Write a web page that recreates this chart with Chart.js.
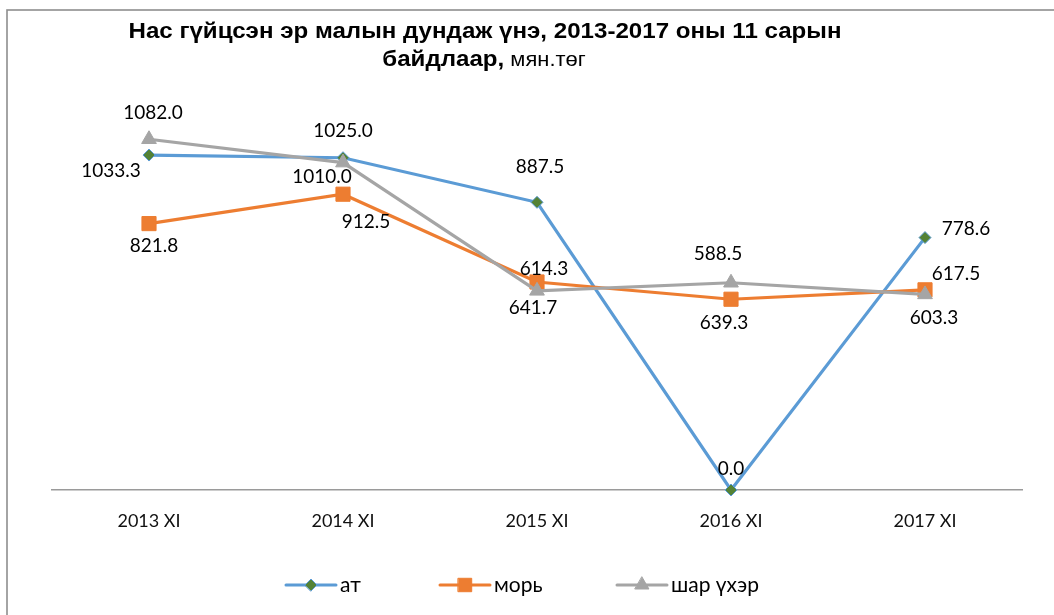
<!DOCTYPE html>
<html>
<head>
<meta charset="utf-8">
<script src="https://cdn.jsdelivr.net/npm/chart.js@4.4.0/dist/chart.umd.min.js"></script>
<style>
  html, body { margin: 0; padding: 0; background: #ffffff; }
  #wrap { width: 1054px; height: 615px; position: relative; }
</style>
</head>
<body>
<div id="wrap"><canvas id="c"></canvas></div>
<script>
// Categories (November of each year) and series values, thousand tögrög
const categories = ['2013 XI', '2014 XI', '2015 XI', '2016 XI', '2017 XI'];
const atValues   = [1033.3, 1025.0, 887.5, 0.0, 778.6];
const morValues  = [821.8, 912.5, 641.7, 588.5, 617.5];
const sharValues = [1082.0, 1010.0, 614.3, 639.3, 603.3];
const seriesNames = ['ат', 'морь', 'шар үхэр'];
const yMin = 0;
const yMax = 1200;

const titleLine1 = 'Нас гүйцсэн эр малын дундаж үнэ, 2013-2017 оны 11 сарын';
const titleLine2Bold = 'байдлаар,';
const titleLine2Rest = ' мян.төг';

// Value label placement relative to each point (dx, dy in px)
const atLabelOffsets   = [[-38, 16], [0, -27], [3, -35], [0, -21], [41, -9]];
const morLabelOffsets  = [[5, 22], [23, 28], [-4, 26], [-13, -45], [31, -16]];
const sharLabelOffsets = [[4, -26], [-21, 14], [7, -22], [-7, 40], [9, 23]];

const BLUE = '#5B9BD5', ORANGE = '#ED7D31', GRAY = '#A5A5A5', GREEN = '#548235';
const LABEL_FONT = '19px Lato, "Open Sans", sans-serif';
const LEGEND_FONT = '21px Lato, "Open Sans", sans-serif';

function drawMarker(ctx, style, x, y, r, fill, stroke, bw) {
  ctx.save();
  ctx.fillStyle = fill;
  ctx.strokeStyle = stroke;
  ctx.lineWidth = bw;
  ctx.beginPath();
  if (style === 'rectRot') {
    ctx.moveTo(x - r, y); ctx.lineTo(x, y - r); ctx.lineTo(x + r, y); ctx.lineTo(x, y + r);
  } else if (style === 'rect') {
    const s = r * Math.SQRT1_2;
    ctx.rect(x - s, y - s, 2 * s, 2 * s);
  } else if (style === 'triangle') {
    ctx.moveTo(x, y - r);
    ctx.lineTo(x + r * Math.sin(Math.PI * 2 / 3), y - r * Math.cos(Math.PI * 2 / 3));
    ctx.lineTo(x - r * Math.sin(Math.PI * 2 / 3), y - r * Math.cos(Math.PI * 2 / 3));
  }
  ctx.closePath();
  ctx.fill();
  if (bw > 0) ctx.stroke();
  ctx.restore();
}

const decorPlugin = {
  id: 'decor',
  beforeDraw(chart) {
    const ctx = chart.ctx;
    ctx.save();
    ctx.fillStyle = '#ffffff';
    ctx.fillRect(0, 0, chart.width, chart.height);
    // outer chart frame
    ctx.strokeStyle = '#8e8e8e';
    ctx.lineWidth = 1.6;
    ctx.strokeRect(7, 10, 2000, 2000);
    // title
    ctx.fillStyle = '#000000';
    ctx.textBaseline = 'alphabetic';
    ctx.font = 'bold 22px "Liberation Sans", Arial, sans-serif';
    const w1 = ctx.measureText(titleLine1).width;
    const sx = 713 / w1;
    ctx.save();
    ctx.translate(485, 38);
    ctx.scale(sx, 1);
    ctx.textAlign = 'center';
    ctx.fillText(titleLine1, 0, 0);
    ctx.restore();
    // second title line: bold part + regular unit
    const boldFont = 'bold 22px "Liberation Sans", Arial, sans-serif';
    const regFont = '20px "Liberation Sans", Arial, sans-serif';
    ctx.font = boldFont;
    const wb = ctx.measureText(titleLine2Bold).width;
    ctx.font = regFont;
    const wr = ctx.measureText(titleLine2Rest).width;
    ctx.save();
    ctx.translate(484, 66);
    ctx.scale(sx, 1);
    const start = -(wb + wr) / 2;
    ctx.textAlign = 'left';
    ctx.font = boldFont;
    ctx.fillText(titleLine2Bold, start, 0);
    ctx.font = regFont;
    ctx.fillText(titleLine2Rest, start + wb, 0);
    ctx.restore();
    ctx.restore();
  },
  afterDatasetsDraw(chart) {
    const ctx = chart.ctx;
    ctx.save();
    ctx.font = LABEL_FONT;
    ctx.fillStyle = '#000000';
    ctx.textAlign = 'center';
    ctx.textBaseline = 'middle';
    chart.data.datasets.forEach((ds, i) => {
      const meta = chart.getDatasetMeta(i);
      meta.data.forEach((pt, j) => {
        const off = ds.labelOffsets[j];
        ctx.fillText(ds.data[j].toFixed(1), pt.x + off[0], pt.y + off[1]);
      });
    });
    ctx.restore();
  },
  afterDraw(chart) {
    // legend: line sample with marker, then series name
    const ctx = chart.ctx;
    const y = 585;
    const starts = [286, 440, 617];
    const lineLen = 50;
    ctx.save();
    ctx.font = LEGEND_FONT;
    ctx.textBaseline = 'middle';
    ctx.textAlign = 'left';
    chart.data.datasets.forEach((ds, i) => {
      const x0 = starts[i];
      ctx.strokeStyle = ds.borderColor;
      ctx.lineWidth = 3;
      ctx.lineCap = 'round';
      ctx.beginPath();
      ctx.moveTo(x0, y);
      ctx.lineTo(x0 + lineLen, y);
      ctx.stroke();
      drawMarker(ctx, ds.pointStyle, x0 + lineLen / 2, y, ds.legendRadius,
                 ds.pointBackgroundColor, ds.pointBorderColor, ds.pointBorderWidth);
      ctx.fillStyle = '#000000';
      ctx.fillText(ds.label, x0 + lineLen + 4, y);
    });
    ctx.restore();
  }
};

new Chart(document.getElementById('c'), {
  type: 'line',
  data: {
    labels: categories,
    datasets: [
      {
        label: seriesNames[0], data: atValues, labelOffsets: atLabelOffsets,
        borderColor: BLUE, borderWidth: 3.2,
        pointStyle: 'rectRot', pointRadius: 6, legendRadius: 6,
        pointBackgroundColor: GREEN, pointBorderColor: BLUE, pointBorderWidth: 1,
        order: 3
      },
      {
        label: seriesNames[1], data: morValues, labelOffsets: morLabelOffsets,
        borderColor: ORANGE, borderWidth: 3.2,
        pointStyle: 'rect', pointRadius: 10, legendRadius: 9.5,
        pointBackgroundColor: ORANGE, pointBorderColor: ORANGE, pointBorderWidth: 1,
        order: 2
      },
      {
        label: seriesNames[2], data: sharValues, labelOffsets: sharLabelOffsets,
        borderColor: GRAY, borderWidth: 3.2,
        pointStyle: 'triangle', pointRadius: 8.5, legendRadius: 8,
        pointBackgroundColor: GRAY, pointBorderColor: GRAY, pointBorderWidth: 1,
        order: 1
      }
    ]
  },
  options: {
    responsive: true,
    maintainAspectRatio: false,
    animation: false,
    events: [],
    layout: { padding: { top: 101, left: 52, right: 32, bottom: 80 } },
    elements: { line: { tension: 0 } },
    datasets: { line: { clip: false } },
    plugins: {
      legend: { display: false },
      title: { display: false },
      tooltip: { enabled: false }
    },
    scales: {
      x: {
        offset: true,
        grid: { display: false, drawTicks: false },
        border: { display: true, color: '#9a9a9a', width: 1.5 },
        ticks: {
          color: '#111111',
          font: { family: 'Lato', size: 18 },
          padding: 20,
          maxRotation: 0,
          autoSkip: false
        },
        afterFit(scale) { scale.height = 45; }
      },
      y: { display: false, min: yMin, max: yMax }
    }
  },
  plugins: [decorPlugin]
});
</script>
</body>
</html>
